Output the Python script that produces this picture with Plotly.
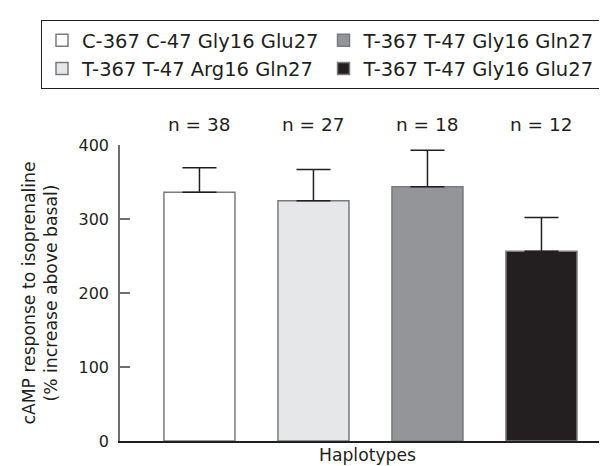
import plotly.graph_objects as go

haplotypes = ["C-367 C-47 Gly16 Glu27", "T-367 T-47 Arg16 Gln27",
              "T-367 T-47 Gly16 Gln27", "T-367 T-47 Gly16 Glu27"]
means = [336.2, 324.6, 343.5, 256.5]
sem = [33.0, 42.3, 49.5, 45.5]
n_counts = [38, 27, 18, 12]
colors = ["#ffffff", "#e6e7e8", "#939598", "#231f20"]
ranks = [1, 3, 2, 4]

FONT = "DejaVu Sans"
INK = "#231f20"

fig = go.Figure()
for i, name in enumerate(haplotypes):
    fig.add_trace(go.Bar(
        x=[i], y=[means[i]], name=name, width=0.623,
        marker=dict(color=colors[i], line=dict(color="#7a7b7e", width=1.5)),
        error_y=dict(type="data", symmetric=False, array=[sem[i]], arrayminus=[0],
                     color=INK, thickness=1.5, width=17),
        legendrank=ranks[i],
    ))

for i, n in enumerate(n_counts):
    fig.add_annotation(x=i, y=1.0, yref="paper", yanchor="middle", yshift=21,
                       text=f"n = {n}", showarrow=False,
                       font=dict(size=18.5, color=INK, family=FONT))

fig.update_layout(
    width=607, height=466,
    margin=dict(l=112, r=0, t=137, b=33, autoexpand=False),
    plot_bgcolor="white", paper_bgcolor="white",
    showlegend=True,
    barmode="overlay",
    legend=dict(orientation="h", x=(33 - 112) / 495, xanchor="left", y=1.4223, yanchor="top",
                bordercolor=INK, borderwidth=1, bgcolor="white",
                font=dict(size=19.5, color=INK, family=FONT),
                tracegroupgap=0, itemwidth=30),
    font=dict(family=FONT, color=INK),
)
fig.update_xaxes(range=[-0.697, 3.645], showticklabels=False, ticks="",
                 showline=True, linecolor=INK, linewidth=1.5, showgrid=False, zeroline=False,
                 title=dict(text="Haplotypes", font=dict(size=17.2, color=INK, family=FONT), standoff=7))
fig.update_yaxes(range=[0, 400], tickvals=[0, 100, 200, 300, 400], ticks="inside", ticklen=10,
                 tickcolor="#6d6e71", tickwidth=1.5, ticklabelstandoff=6,
                 showline=True, linecolor="#6d6e71", linewidth=1.5, showgrid=False, zeroline=False,
                 tickfont=dict(size=16, color=INK, family=FONT),
                 title=dict(text="cAMP response to isoprenaline<br>(% increase above basal)",
                            font=dict(size=17.2, color=INK, family=FONT), standoff=16))

fig.write_html("out.html")
